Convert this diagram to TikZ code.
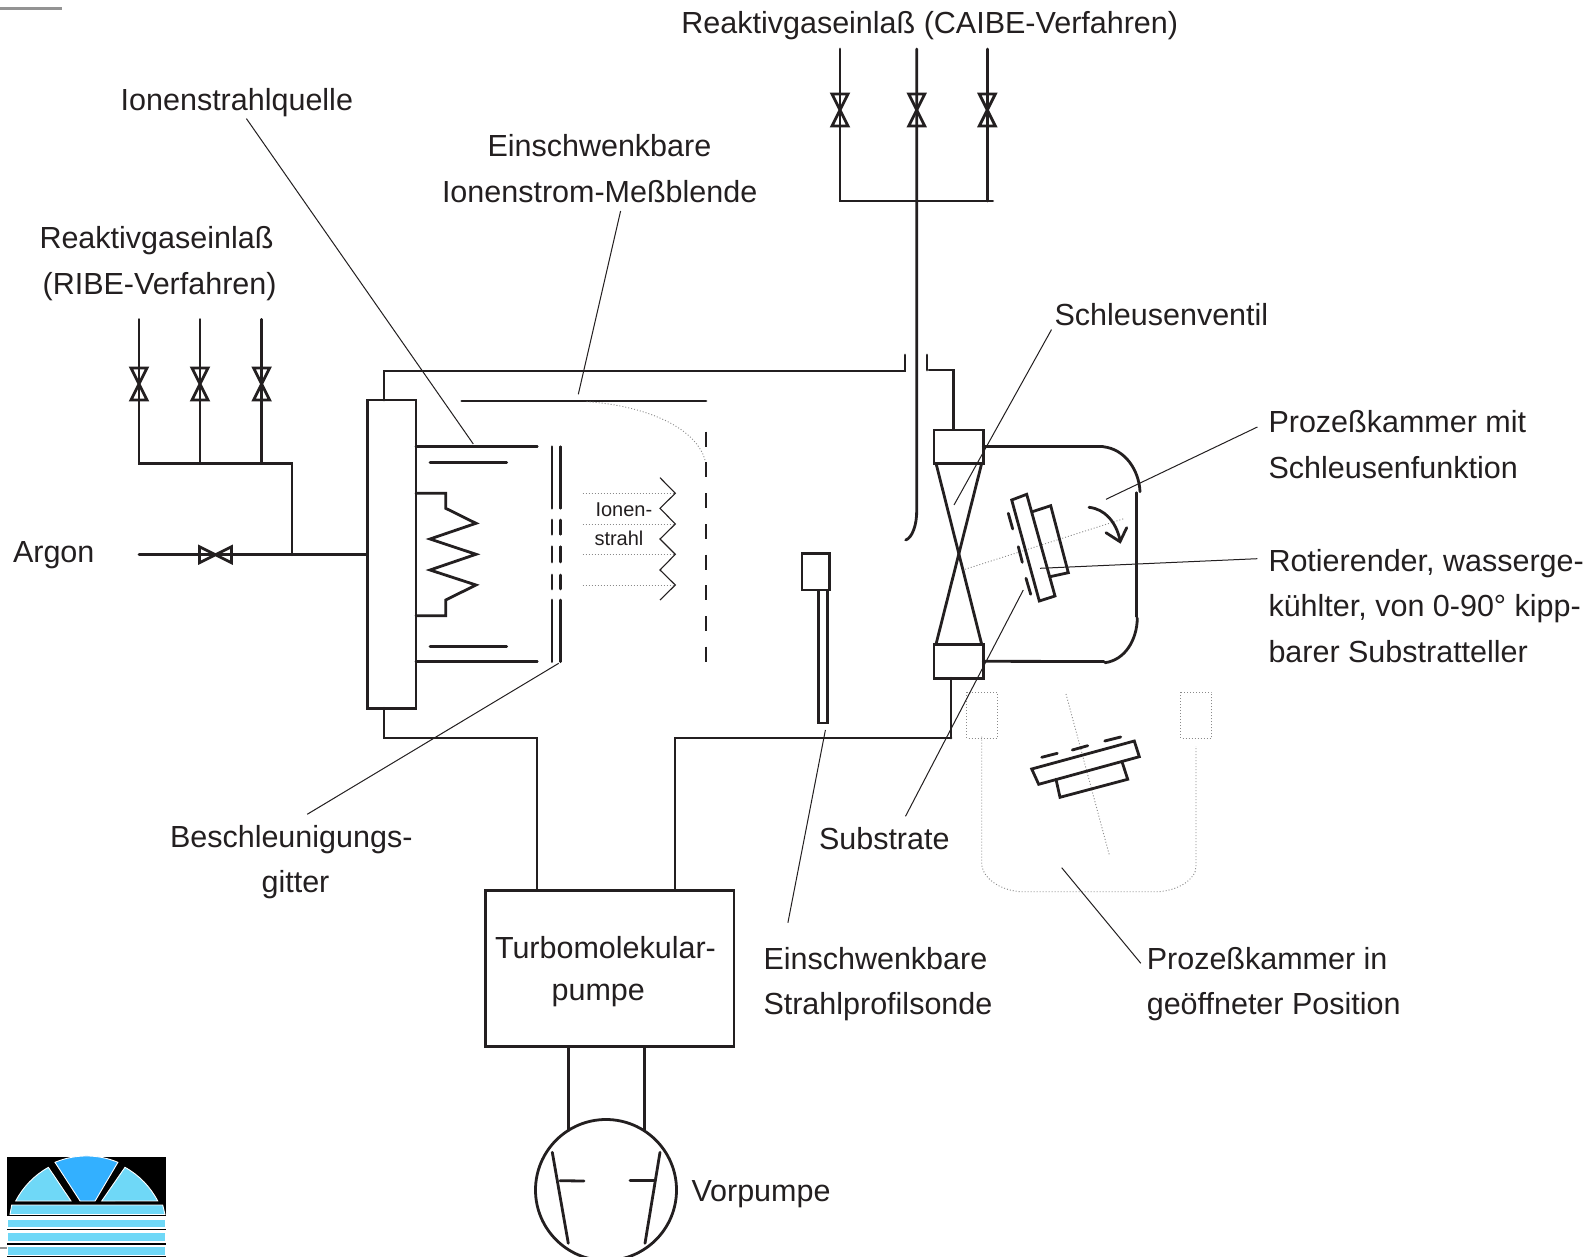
\documentclass[tikz,border=0pt]{standalone}
\usepackage{fontspec}
\setmainfont{Liberation Sans}
\definecolor{ink}{HTML}{231F20}
\definecolor{dotgray}{HTML}{8A8A8A}
\definecolor{logolight}{HTML}{6FD8F7}
\definecolor{logoblue}{HTML}{33B0FF}
\tikzset{
  pipe/.style={draw=ink,line width=2.8pt,line cap=round,line join=miter},
  thinline/.style={draw=ink,line width=1.6pt,line join=miter},
  leader/.style={draw=ink,line width=1pt},
  dotline/.style={draw=dotgray,line width=0.9pt,dash pattern=on 1pt off 2pt},
  lbl/.style={anchor=base west,inner sep=0pt,outer sep=0pt,yshift=-1pt,text=ink,font=\fontsize{30.5}{36}\selectfont},
  smalllbl/.style={anchor=base west,inner sep=0pt,outer sep=0pt,text=ink,font=\fontsize{20}{24}\selectfont},
  boxn/.style={draw=ink,line width=2.8pt,fill=white,inner sep=0pt,outer sep=0pt,minimum width=#1},
  vvalve/.pic={\draw[pipe,line join=miter] (-8,-16)--(8,-16)--(-8,16)--(8,16)--cycle;},
  hvalve/.pic={\draw[pipe,line join=miter] (-16,-8)--(-16,8)--(16,-8)--(16,8)--cycle;},
  lstripe/.style={fill=logolight,draw=white,line width=0.9pt}
}
\begin{document}
\begin{tikzpicture}[x=1pt,y=-1pt]
\clip (0,0) rectangle (1590,1257);
\fill[white] (0,0) rectangle (1590,1257);

% corner marks
\draw[draw=gray!85,line width=2.4pt] (0,8.5) -- (62,8.5);
\draw[draw=gray!85,line width=2.4pt] (0,1247.7) -- (7,1247.7);

% coordinates of the pipework
\coordinate (capipeL) at (840,49);
\coordinate (capipeM) at (916.7,49);
\coordinate (capipeR) at (987.3,49);
\coordinate (ripeL) at (139,319.4);
\coordinate (ripeM) at (200,319.4);
\coordinate (ripeR) at (261.6,319.4);

% CAIBE gas inlet
\draw[pipe] (capipeL) -- (840,201) -- (992.7,201);
\draw[pipe] (capipeM) -- (916.7,510) .. controls (917,525) and (912,538) .. (905.7,540);
\draw[pipe] (capipeR) -- (987.3,201);
\path (840,110) pic {vvalve} (916.7,110) pic {vvalve} (987.3,110) pic {vvalve};

% RIBE gas inlet
\draw[pipe] (ripeL) -- (139,463.4) -- (292,463.4) -- (292,554.7);
\draw[pipe] (ripeM) -- (200,463.4);
\draw[pipe] (ripeR) -- (261.6,463.4);
\path[fill=white] (139,384) pic {vvalve} (200,384) pic {vvalve} (261.6,384) pic {vvalve};

% ion source block
\node[boxn=48.7pt,minimum height=308.3pt] (src) at (391.6,554.2) {};
\draw[pipe] (139,554.7) -- (src.west |- 139,554.7);
\path (215.5,554.7) pic {hvalve};
\draw[pipe] (384,400) -- (384,371) -- (905,371) -- (905,355);
\draw[pipe] (384,708.3) -- (384,738) -- (537,738) -- (537,890.3);
\draw[pipe] (675,890.3) -- (675,738) -- (951,738);
\draw[pipe] (416,446.7) -- (537.3,446.7);
\draw[pipe] (416,661.7) -- (537.3,661.7);
\draw[pipe] (430,462.3) -- (506.7,462.3);
\draw[pipe] (430,646.7) -- (506.7,646.7);
\draw[pipe] (416,493.3) -- (445.7,493.3) -- (445.7,508.3) -- (476,523.3) -- (430,539) -- (476,554.3) -- (430,570) -- (476,585) -- (445.7,600) -- (445.7,615.7) -- (416,615.7);

% grids
\foreach \gx in {552,560.7}{
  \draw[pipe] (\gx,446.7) -- (\gx,508.3);
  \draw[pipe] (\gx,520) -- (\gx,534.3);
  \draw[pipe] (\gx,546.7) -- (\gx,562);
  \draw[pipe] (\gx,575) -- (\gx,589);
  \draw[pipe] (\gx,600) -- (\gx,661.7);
}

% measuring aperture
\draw[pipe] (461.7,401) -- (706,401);
\foreach \dy in {431.7,462.3,493.3,524,554.7,585,616,646.7}{
  \draw[pipe,line cap=butt] (706,\dy) -- (706,\dy+15);
}
\draw[dotline] (586.7,401.7) .. controls (640,405) and (695,425) .. (705,460);

% ion beam
\foreach \by in {493.3,524,554.3,585}{\draw[dotline] (582.7,\by) -- (675,\by);}
\draw[thinline,line width=1.1pt] (660,477.7) -- (675.3,493.3) -- (660,508.3) -- (675.3,524) -- (660,539) -- (675.3,554.3) -- (660,570) -- (675.3,585) -- (660,600);
\node[smalllbl] (beamA) at (595.5,516) {Ionen-};
\node[smalllbl] (beamB) at (594.5,545) {strahl};

% probe
\node[boxn=27.5pt,minimum height=36.4pt] (probehead) at (815.7,571.8) {};
\node[boxn=9.2pt,minimum height=133pt] (probestem) at (822.9,656.5) {};

% lock valve and chamber
\draw[pipe] (927,355) -- (927,370);
\draw[pipe] (929,370) -- (953.5,370) -- (953.5,430);
\node[boxn=49.3pt,minimum height=33.3pt] (valveT) at (958.6,446.7) {};
\node[boxn=49.3pt,minimum height=34pt] (valveB) at (958.6,661.3) {};
\draw[pipe] (936,463.3) -- (981.7,644.3);
\draw[pipe] (981.7,463.3) -- (936,644.3);
\draw[pipe] (951,678.3) -- (951,738);
\draw[pipe] (valveT.east) -- (1103,446.7);
\draw[pipe] (1103,446.7) .. controls (1125,449) and (1139,470) .. (1140,491.7);
\draw[pipe] (1136.7,492.7) -- (1136.7,616.7);
\draw[pipe] (1137.3,618) .. controls (1137,640) and (1125,660) .. (1105,662.7);
\draw[pipe] (valveB.east) -- (1104,661.5);

% substrate table, closed position
\draw[dotline] (965,569.3) -- (1125,518.3);
\draw[pipe] (1011.7,500) -- (1026.7,494.3) -- (1055,596) -- (1039.3,601) -- cycle;
\draw[pipe] (1032.3,511.7) -- (1050.7,505.7) -- (1068.3,572.7) -- (1050,576.7);
\draw[pipe] (1008.3,513.3) -- (1012.7,529);
\draw[pipe] (1018.3,546.7) -- (1022.3,562.3);
\draw[pipe] (1026,578.3) -- (1030.7,594.3);
\draw[pipe] (1089,507.3) .. controls (1105,509) and (1116,522) .. (1120,540);
\draw[pipe] (1106,532.7) -- (1120,541.7) -- (1126.7,527.7);

% open position
\draw[dotline] (966.7,692.3) rectangle (997.3,738.3);
\draw[dotline] (1180.7,692.3) rectangle (1211.7,738.3);
\draw[dotline] (981.7,736.7) -- (981.7,863.3) .. controls (982,880) and (1005,893) .. (1026.7,891.7) -- (1151.7,891.7) .. controls (1175,893) and (1196,880) .. (1196,866.7) -- (1196,746);
\draw[dotline] (1066,694) -- (1109.3,855);
\draw[pipe] (1031.7,769) -- (1134.3,741) -- (1139.3,756.7) -- (1038.7,784.3) -- cycle;
\draw[pipe] (1056,779.3) -- (1060,797.3) -- (1127.7,779.3) -- (1122,761.7);
\draw[pipe] (1041.7,757.3) -- (1057.3,753.3);
\draw[pipe] (1072.3,750) -- (1087.7,745.7);
\draw[pipe] (1104.7,741) -- (1120.7,737);

% pumps
\node[boxn=248.3pt,minimum height=156.2pt] (turbo) at (609.9,968.4) {};
\draw[pipe] (568.3,1046.5) -- (568.3,1130.7);
\draw[pipe] (644.7,1046.5) -- (644.7,1130.7);
\node[draw=ink,line width=2.8pt,circle,minimum size=141pt,inner sep=0pt,outer sep=0pt] (vor) at (606,1190) {};
\draw[pipe] (552.3,1152.3) -- (568.3,1243.3);
\draw[pipe] (560,1180.7) -- (584,1181);
\draw[pipe] (660,1152.3) -- (645,1243.3);
\draw[pipe] (630,1180.7) -- (655,1180.7);

% labels
\node[lbl] (tCaibe) at (681.4,32.4) {Reaktivgaseinlaß (CAIBE-Verfahren)};
\node[lbl] (tQuelle) at (120.7,109.5) {Ionenstrahlquelle};
\node[lbl] (tBl1) at (487.5,155.5) {Einschwenkbare};
\node[lbl] (tBl2) at (442,201.5) {Ionenstrom-Meßblende};
\node[lbl] (tRi1) at (39.5,248) {Reaktivgaseinlaß};
\node[lbl] (tRi2) at (42.6,293.5) {(RIBE-Verfahren)};
\node[lbl] (tArgon) at (13,561) {Argon};
\node[lbl] (tSchl) at (1054.6,324.5) {Schleusenventil};
\node[lbl] (tPk1) at (1268.5,431.5) {Prozeßkammer mit};
\node[lbl] (tPk2) at (1268.5,477) {Schleusenfunktion};
\node[lbl] (tRo1) at (1268.5,570) {Rotierender, wasserge-};
\node[lbl] (tRo2) at (1268.5,615.5) {kühlter, von 0-90° kipp-};
\node[lbl] (tRo3) at (1268.5,661) {barer Substratteller};
\node[lbl] (tBe1) at (170,846.5) {Beschleunigungs-};
\node[lbl] (tBe2) at (261.6,891) {gitter};
\node[lbl] (tSub) at (819,848) {Substrate};
\node[lbl] (tTu1) at (495,957) {Turbomolekular-};
\node[lbl] (tTu2) at (551.6,999) {pumpe};
\node[lbl] (tSo1) at (763.5,968) {Einschwenkbare};
\node[lbl] (tSo2) at (763.5,1013.5) {Strahlprofilsonde};
\node[lbl] (tOp1) at (1146.8,968) {Prozeßkammer in};
\node[lbl] (tOp2) at (1146.8,1013.5) {geöffneter Position};
\node[lbl] (tVor) at (691.5,1200.5) {Vorpumpe};

% leaders
\coordinate (lQ) at (246.4,118.6); \coordinate (eQ) at (473.3,444);
\coordinate (lB) at (620.6,211);   \coordinate (eB) at (578.3,394.3);
\coordinate (lG) at (307.2,814.3); \coordinate (eG) at (558.7,663.3);
\coordinate (lS) at (787.9,922.7); \coordinate (eS) at (825.4,730);
\coordinate (lV) at (1051.5,329.6);\coordinate (eV) at (954,505);
\coordinate (lP) at (1257.4,427);  \coordinate (eP) at (1106,499.3);
\coordinate (lR) at (1257.4,558.7);\coordinate (eR) at (1040,568.3);
\coordinate (lT) at (905.5,816.3); \coordinate (eT) at (1023.3,590);
\coordinate (lO) at (1140.8,963.3);\coordinate (eO) at (1061.7,867.7);
\foreach \a/\b in {lQ/eQ,lB/eB,lG/eG,lS/eS,lV/eV,lP/eP,lR/eR,lT/eT,lO/eO}{\draw[leader] (\a) -- (\b);}

% logo
\fill[black] (7,1156.7) rectangle (165.7,1216);
\begin{scope}[shift={(86.7,1237.8)}]
  \path[lstripe] (-71,-36.8) arc[start angle=-152.6,end angle=-119,radius=81.2] -- (-15.7,-36.8) -- cycle;
  \path[fill=logoblue,draw=white,line width=0.9pt] (-31.7,-75.5) arc[start angle=-112.8,end angle=-67.2,radius=81.2] -- (8.4,-36.8) -- (-6.6,-36.8) -- cycle;
  \path[lstripe] (38.3,-70.5) arc[start angle=-61,end angle=-27.4,radius=81.2] -- (15,-36.8) -- cycle;
\end{scope}
\path[lstripe] (10,1214.5) -- (11.7,1205) -- (162.7,1205) -- (165,1214.5) -- cycle;
\path[lstripe] (7.8,1219.3) rectangle (165.7,1227.5);
\path[lstripe] (7,1232.7) rectangle (165.7,1241);
\path[lstripe] (7.8,1246) rectangle (165.7,1255);
\draw[black,line width=1.3pt] (7,1229.7) -- (165.7,1229.7);
\draw[black,line width=1.3pt] (7,1244) -- (165.7,1244);
\draw[black,line width=1.3pt] (7,1256.3) -- (165.7,1256.3);
\end{tikzpicture}
\end{document}
